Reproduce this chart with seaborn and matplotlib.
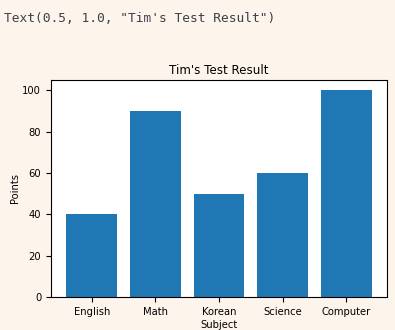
import matplotlib
matplotlib.use("Agg")
import matplotlib.pyplot as plt
import seaborn as sns
import pandas as pd

subjects = ["English", "Math", "Korean", "Science", "Computer"]
points = [40, 90, 50, 60, 100]
title = "Tim's Test Result"

df = pd.DataFrame({"Subject": subjects, "Points": points})

bg = "#fdf5ec"
fig = plt.figure(figsize=(3.95, 3.30), dpi=100, facecolor=bg)
ax = fig.add_axes([0.129, 0.1, 0.851, 0.658])
ax.set_facecolor("white")

sns.barplot(data=df, x="Subject", y="Points", color="#1f77b4", saturation=1,
            width=0.8, ax=ax, edgecolor="none")

ax.set_xlim(-0.64, 4.64)
ax.set_ylim(0, 105)
ax.set_yticks([0, 20, 40, 60, 80, 100])
ax.tick_params(labelsize=7.2, length=3.5, width=0.8)
ax.set_xlabel("Subject", fontsize=7.2, labelpad=2)
ax.set_ylabel("Points", fontsize=7.2, labelpad=2)
ax.set_title(title, fontsize=8.6, pad=4)
for s in ax.spines.values():
    s.set_linewidth(0.8)

fig.text(4 / 395, 1 - 18 / 330, 'Text(0.5, 1.0, "Tim\'s Test Result")',
         family="DejaVu Sans Mono", fontsize=9.3, color="#3c4048",
         va="center", ha="left")

fig.savefig("out.png", dpi=100, facecolor=bg)
